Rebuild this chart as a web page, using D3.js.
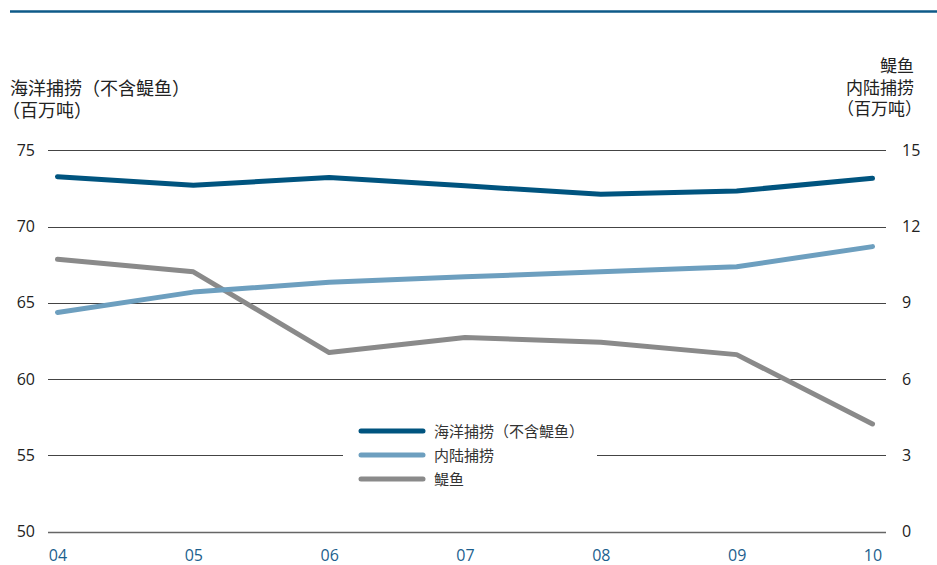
<!DOCTYPE html>
<html>
<head>
<meta charset="utf-8">
<script src="https://cdn.jsdelivr.net/npm/d3@7"></script>
<style>
  html, body { margin: 0; padding: 0; background: #fff; }
  svg { display: block; }
  text { font-family: "Open Sans", "Noto Sans CJK SC", sans-serif; }
</style>
</head>
<body>
<svg id="chart" width="937" height="565"></svg>
<script>
// Years along the horizontal axis
const years = ["04", "05", "06", "07", "08", "09", "10"];
// Marine capture excluding anchoveta (million tonnes, left axis)
const marine = [73.27, 72.71, 73.21, 72.67, 72.11, 72.33, 73.17];
// Inland capture (million tonnes, right axis)
const inland = [8.62, 9.42, 9.81, 10.02, 10.22, 10.42, 11.21];
// Anchoveta (million tonnes, right axis)
const anchoveta = [10.71, 10.22, 7.04, 7.63, 7.45, 6.96, 4.23];

const leftTicks = [50, 55, 60, 65, 70, 75];
const rightTicks = [0, 3, 6, 9, 12, 15];

const seriesNames = ["海洋捕捞（不含鳀鱼）", "内陆捕捞", "鳀鱼"];
const colors = ["#00547f", "#6d9fbf", "#8a8a8a"];

const svg = d3.select("#chart");

const x = d3.scalePoint().domain(years).range([57.5, 872.5]);
const yL = d3.scaleLinear().domain([50, 75]).range([531.5, 150.3]);
const yR = d3.scaleLinear().domain([0, 15]).range([531.5, 150.3]);

// Top rule
svg.append("line")
  .attr("x1", 10).attr("x2", 937).attr("y1", 11.5).attr("y2", 11.5)
  .attr("stroke", "#0e5a88").attr("stroke-width", 2.5);

// Gridlines
svg.append("g").selectAll("line").data(leftTicks).join("line")
  .attr("x1", 48).attr("x2", 886)
  .attr("y1", d => Math.round(yL(d)) + 0.5).attr("y2", d => Math.round(yL(d)) + 0.5)
  .attr("stroke", d => d === 50 ? "#666" : "#444")
  .attr("stroke-width", d => d === 50 ? 1.4 : 1);

// Left axis labels
const leftAxis = d3.axisLeft(yL).tickValues(leftTicks).tickSize(0).tickPadding(0);
svg.append("g").attr("transform", "translate(35,0)").call(leftAxis)
  .call(g => g.select(".domain").remove())
  .selectAll("text").attr("font-size", 16).attr("fill", "#222")
  .attr("font-family", "'Open Sans', sans-serif");

// Right axis labels
const rightAxis = d3.axisRight(yR).tickValues(rightTicks).tickSize(0).tickPadding(0);
svg.append("g").attr("transform", "translate(902,0)").call(rightAxis)
  .call(g => g.select(".domain").remove())
  .selectAll("text").attr("font-size", 16).attr("fill", "#222")
  .attr("font-family", "'Open Sans', sans-serif");

// Bottom axis labels
const bottomAxis = d3.axisBottom(x).tickSize(0).tickPadding(0);
svg.append("g").attr("transform", "translate(0,550)").call(bottomAxis)
  .call(g => g.select(".domain").remove())
  .selectAll("text").attr("font-size", 16).attr("fill", "#1c5f8e")
  .attr("font-family", "'Open Sans', sans-serif");

// Axis titles
const leftTitle = ["海洋捕捞（不含鳀鱼）", "（百万吨）"];
svg.append("g").selectAll("text").data(leftTitle).join("text")
  .attr("x", d => d.startsWith("（") ? 2 : 10)
  .attr("y", (d, i) => 95 + i * 22)
  .attr("font-size", 18).attr("fill", "#222")
  .attr("font-family", "'Noto Sans CJK SC', sans-serif")
  .text(d => d);

const rightTitle = ["鳀鱼", "内陆捕捞", "（百万吨）"];
svg.append("g").selectAll("text").data(rightTitle).join("text")
  .attr("x", (d, i) => i === 2 ? 922 : 914)
  .attr("y", (d, i) => 72 + i * 21.5)
  .attr("text-anchor", "end")
  .attr("font-size", 17).attr("fill", "#222")
  .attr("font-family", "'Noto Sans CJK SC', sans-serif")
  .text(d => d);

// Lines
const lineL = d3.line().x((d, i) => x(years[i])).y(d => yL(d));
const lineR = d3.line().x((d, i) => x(years[i])).y(d => yR(d));

const seriesData = [
  { values: marine, gen: lineL },
  { values: inland, gen: lineR },
  { values: anchoveta, gen: lineR }
];

// Draw anchoveta first, then inland, then marine on top
[2, 1, 0].forEach(k => {
  svg.append("path")
    .attr("d", seriesData[k].gen(seriesData[k].values))
    .attr("fill", "none")
    .attr("stroke", colors[k])
    .attr("stroke-width", 5)
    .attr("stroke-linecap", "round")
    .attr("stroke-linejoin", "round");
});

// Legend
const legend = svg.append("g");
legend.append("rect")
  .attr("x", 343).attr("y", 417).attr("width", 254).attr("height", 76)
  .attr("fill", "#fff");
const rows = legend.selectAll("g.row").data(seriesNames).join("g")
  .attr("class", "row")
  .attr("transform", (d, i) => `translate(0, ${431 + i * 24})`);
rows.append("line")
  .attr("x1", 361).attr("x2", 423).attr("y1", 0).attr("y2", 0)
  .attr("stroke", (d, i) => colors[i])
  .attr("stroke-width", 5).attr("stroke-linecap", "round");
rows.append("text")
  .attr("x", 434).attr("y", 5.5)
  .attr("font-size", 15).attr("fill", "#333")
  .attr("font-family", "'Noto Sans CJK SC', sans-serif")
  .text(d => d);
</script>
</body>
</html>
